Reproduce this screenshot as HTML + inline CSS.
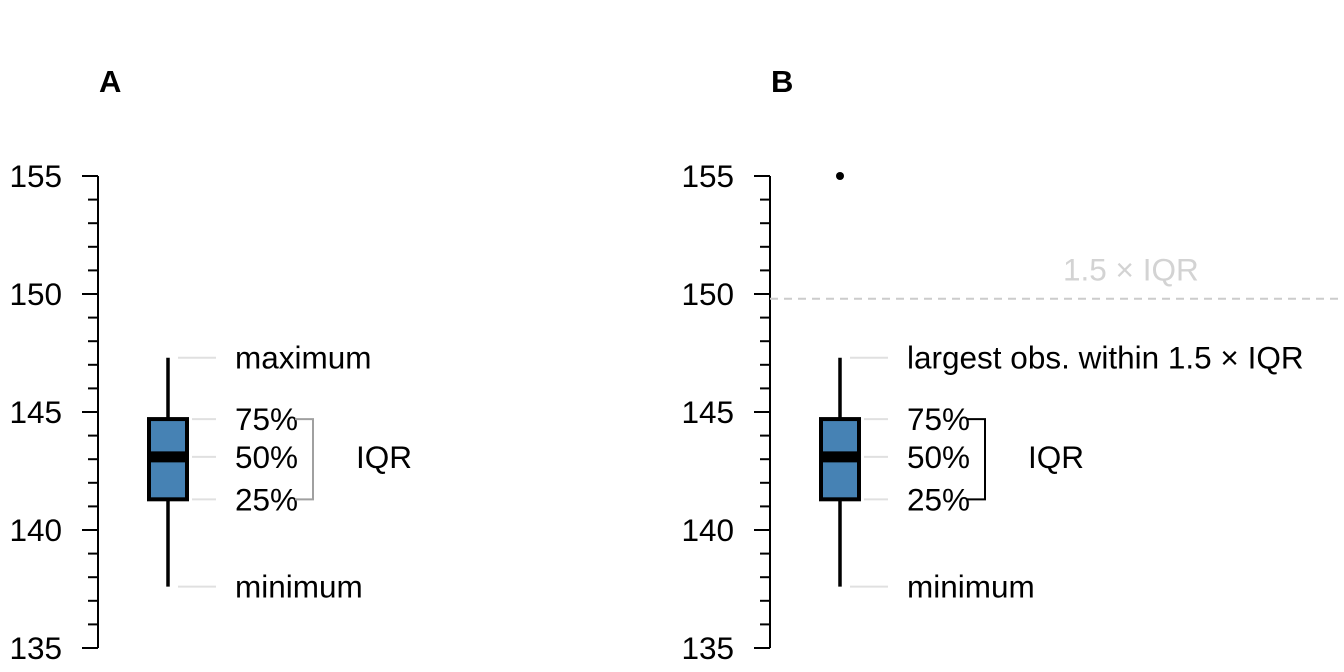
<!DOCTYPE html>
<html><head><meta charset="utf-8"><style>
html,body{margin:0;padding:0;background:#fff;width:1344px;height:672px;overflow:hidden}
svg text{font-family:"Liberation Sans",sans-serif}
</style></head><body>
<svg id="chart" width="1344" height="672" xmlns="http://www.w3.org/2000/svg"></svg>
<script>
const yTicks = [135, 140, 145, 150, 155];
const panelLabels = ["A", "B"];
const statsA = [137.6, 141.3, 143.1, 144.7, 147.3];
const statsB = [137.6, 141.3, 143.1, 144.7, 147.3];
const outliersB = [155];
const fenceB = [149.8];
const labelsA = ["minimum", "25%", "50%", "75%", "maximum"];
const labelsB = ["minimum", "25%", "50%", "75%", "largest obs. within 1.5 × IQR"];

const svg = document.getElementById('chart');
const NS = "http://www.w3.org/2000/svg";
const FS = 31.5;
function y(v){ return 176 + (155 - v) * 23.6; }
function mk(tag, attrs, parent){
  const e = document.createElementNS(NS, tag);
  for (const k in attrs) e.setAttribute(k, attrs[k]);
  (parent||svg).appendChild(e); return e;
}
function panel(off, label, stats, labels, bracketColor, name){
  const g = mk('g', {});
  
  
  const ax = 98 + off, cx = 168 + off;
  const t = mk('text', {x: 99 + off, y: 92, 'font-size': 31, 'font-weight': 'bold'}, g);
  t.textContent = label;
  
  
  const axis = mk('g', {}, g);
  
  
  mk('line', {x1: ax, x2: ax, y1: y(155), y2: y(135), stroke: '#000', 'stroke-width': 2}, axis);
  for (let v = yTicks[0]; v <= yTicks[yTicks.length-1]; v++) {
    const major = yTicks.includes(v);
    mk('line', {x1: ax - (major ? 16 : 10), x2: ax, y1: y(v), y2: y(v), stroke: '#000', 'stroke-width': 2}, axis);
  }
  yTicks.forEach(v => {
    const tl = mk('text', {x: ax - 36, y: y(v) + 11, 'font-size': FS, 'text-anchor': 'end'}, axis);
    tl.textContent = v;
    
    
  });
  const [mn, q1, md, q3, mx] = stats;
  [[mn, 178], [q1, 192], [md, 192], [q3, 192], [mx, 178]].forEach((p, i) => {
    mk('line', {x1: p[1] + off, x2: 216 + off, y1: y(p[0]), y2: y(p[0]), stroke: '#e0e0e0', 'stroke-width': 2}, g);
    const lt = mk('text', {x: 235 + off, y: y(p[0]) + 11, 'font-size': FS}, g);
    lt.textContent = labels[i];
    
    
  });
  const box = mk('g', {}, g);
  
  
  mk('line', {x1: cx, x2: cx, y1: y(mx), y2: y(mn), stroke: '#000', 'stroke-width': 3.5}, box);
  mk('rect', {x: cx - 19, y: y(q3), width: 38, height: y(q1) - y(q3), fill: '#4682b4', stroke: '#000', 'stroke-width': 4}, box);
  mk('line', {x1: cx - 19, x2: cx + 19, y1: y(md), y2: y(md), stroke: '#000', 'stroke-width': 11}, box);
  const bx = 313 + off;
  mk('polyline', {points: `${bx-18},${y(q3)} ${bx},${y(q3)} ${bx},${y(q1)} ${bx-18},${y(q1)}`, fill: 'none', stroke: bracketColor, 'stroke-width': 2}, g);
  const it = mk('text', {x: 356 + off, y: y(md) + 11, 'font-size': FS}, g);
  it.textContent = 'IQR';
  
  
  return g;
}
panel(0, panelLabels[0], statsA, labelsA, '#a0a0a0', 'a');
const gB = panel(672, panelLabels[1], statsB, labelsB, '#000', 'b');
outliersB.forEach(v => {
  const c = mk('circle', {cx: 840, cy: y(v), r: 4, fill: '#000'}, gB);
  
  
});
fenceB.forEach(v => {
  const l = mk('line', {x1: 770, x2: 1344, y1: y(v), y2: y(v), stroke: '#cccccc', 'stroke-width': 2, 'stroke-dasharray': '8,6'}, gB);
  
  
  const ft = mk('text', {x: 1063, y: y(v) - 18, 'font-size': FS, fill: '#d3d3d3'}, gB);
  ft.textContent = '1.5 × IQR';
  
  
});
</script>
</body></html>
